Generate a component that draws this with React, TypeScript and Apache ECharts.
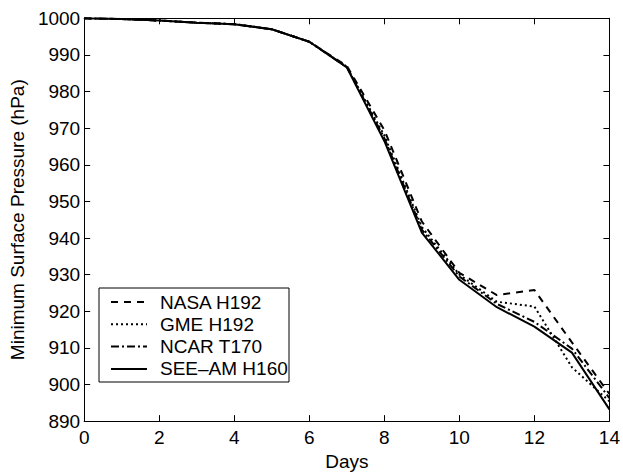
import React, { useEffect, useRef } from "react";
import * as echarts from "echarts";

const days = [0, 1, 2, 3, 4, 5, 6, 7, 8, 9, 10, 11, 12, 13, 14];
const nasaH192 = [1000, 999.8, 999.4, 998.8, 998.4, 997, 993.6, 987, 969.5, 944.5, 930.5, 924.4, 925.8, 911.5, 897.4];
const gmeH192 = [1000, 999.8, 999.4, 998.8, 998.4, 997, 993.6, 986.8, 968, 943, 930, 922.6, 921.3, 904.7, 895.4];
const ncarT170 = [1000, 999.8, 999.4, 998.8, 998.4, 997, 993.6, 986.7, 967.3, 942.3, 929.5, 922, 917.1, 909.8, 896.3];
const seeAmH160 = [1000, 999.8, 999.4, 998.8, 998.4, 997, 993.6, 986.6, 966.5, 941.5, 928.6, 921.1, 915.8, 908.7, 893.2];
const seriesNames = ["NASA H192", "GME H192", "NCAR T170", "SEE\u2013AM H160"];
const xTicks = [0, 2, 4, 6, 8, 10, 12, 14];
const yTicks = [890, 900, 910, 920, 930, 940, 950, 960, 970, 980, 990, 1000];

const FONT = "'Liberation Sans', Arial, Helvetica, sans-serif";
const FS = 19;
const dashTypes: any[] = [[7, 6], [2, 3], [8, 3, 2, 3], "solid"];

export default function App() {
  const ref = useRef<HTMLDivElement>(null);
  useEffect(() => {
    if (!ref.current) return;
    const chart = echarts.init(ref.current, null, { renderer: "svg" });
    const allData = [nasaH192, gmeH192, ncarT170, seeAmH160];
    const axisCommon = {
      axisLine: { show: true, onZero: false, lineStyle: { color: "#000", width: 1 } },
      axisTick: { show: true, inside: true, length: 6, lineStyle: { color: "#000" } },
      splitLine: { show: false },
    };
    const legendX = 99, legendY = 288, rowH = 22.3;
    const legendGraphics: any[] = [
      {
        type: "rect",
        shape: { x: legendX, y: legendY, width: 190, height: 94 },
        style: { fill: "#fff", stroke: "#000", lineWidth: 1 },
        z: 100,
      },
    ];
    seriesNames.forEach((name, i) => {
      const cy = legendY + 14 + i * rowH;
      legendGraphics.push({
        type: "line",
        shape: { x1: legendX + 12, y1: cy, x2: legendX + 48, y2: cy },
        style: {
          stroke: "#000",
          lineWidth: 2,
          lineDash: dashTypes[i] === "solid" ? null : dashTypes[i],
        },
        z: 101,
      });
      legendGraphics.push({
        type: "text",
        x: legendX + 61,
        y: cy,
        style: {
          text: name,
          fill: "#000",
          font: `${FS}px ${FONT}`,
          verticalAlign: "middle",
          align: "left",
        },
        z: 101,
      });
    });
    chart.setOption({
      animation: false,
      backgroundColor: "#fff",
      grid: { left: 84, right: 13, top: 18.3, bottom: 44.6, containLabel: false },
      xAxis: [
        {
          type: "value",
          min: 0,
          max: 14,
          interval: 2,
          position: "bottom",
          ...axisCommon,
          axisLabel: { color: "#000", fontSize: FS, fontFamily: FONT, margin: 7, customValues: xTicks, formatter: (v: number) => String(v) },
          name: "Days",
          nameLocation: "middle",
          nameGap: 29,
          nameTextStyle: { color: "#000", fontSize: FS, fontFamily: FONT },
        },
        {
          type: "value",
          min: 0,
          max: 14,
          interval: 2,
          position: "top",
          ...axisCommon,
          axisLabel: { show: false },
        },
      ],
      yAxis: [
        {
          type: "value",
          min: 890,
          max: 1000,
          interval: 10,
          position: "left",
          ...axisCommon,
          axisLabel: { color: "#000", fontSize: FS, fontFamily: FONT, margin: 4, customValues: yTicks, formatter: (v: number) => String(v) },
          name: "Minimum Surface Pressure (hPa)",
          nameLocation: "middle",
          nameGap: 52,
          nameRotate: 90,
          nameTextStyle: { color: "#000", fontSize: FS, fontFamily: FONT },
        },
        {
          type: "value",
          min: 890,
          max: 1000,
          interval: 10,
          position: "right",
          ...axisCommon,
          axisLabel: { show: false },
        },
      ],
      series: seriesNames.map((name, i) => ({
        name,
        type: "line",
        xAxisIndex: 0,
        yAxisIndex: 0,
        symbol: "none",
        data: days.map((d, k) => [d, allData[i][k]]),
        lineStyle: { color: "#000", width: 2, type: dashTypes[i] },
        z: 2 + i,
      })),
      graphic: legendGraphics,
    });
    return () => chart.dispose();
  }, []);
  return (
    <div
      ref={ref}
      style={{ position: "fixed", left: 0, top: 0, width: 623, height: 476 }}
    />
  );
}
